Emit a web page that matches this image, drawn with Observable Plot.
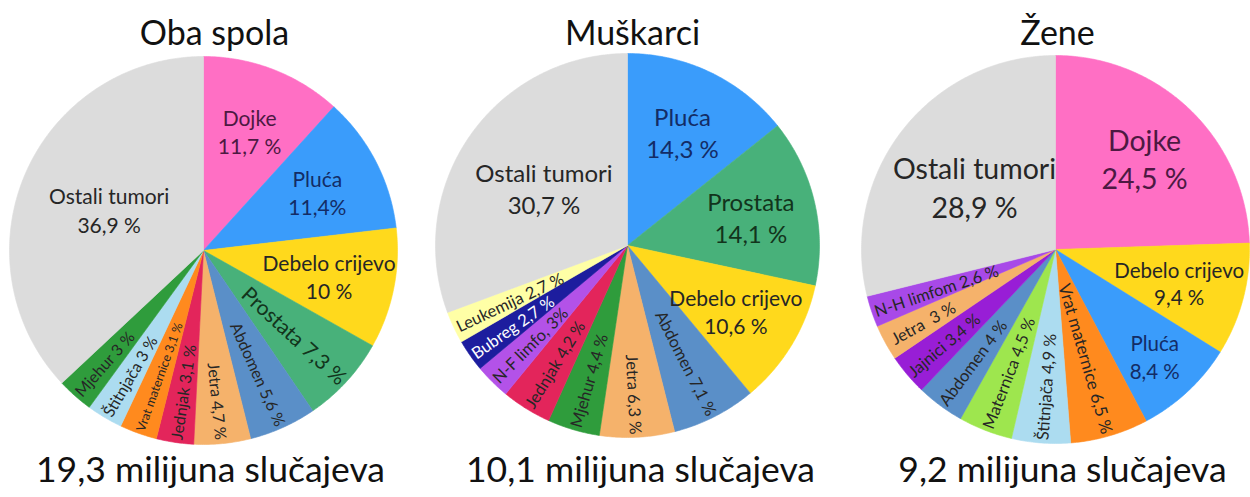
<!DOCTYPE html>
<html>
<head>
<meta charset="utf-8">
<script src="https://cdn.jsdelivr.net/npm/d3@7"></script>
<script src="https://cdn.jsdelivr.net/npm/@observablehq/plot@0.6"></script>
<style>
  html, body { margin: 0; padding: 0; background: #ffffff; }
  #chart { width: 1250px; height: 497px; }
</style>
</head>
<body>
<div id="chart"></div>
<script>
// ---------------- DATA ----------------
const pieTitles = ["Oba spola", "Muškarci", "Žene"];
const pieCaptions = ["19,3 milijuna slučajeva", "10,1 milijuna slučajeva", "9,2 milijuna slučajeva"];

const obaCategories = ["Dojke", "Pluća", "Debelo crijevo", "Prostata", "Abdomen", "Jetra", "Jednjak", "Vrat maternice", "Štitnjača", "Mjehur", "Ostali tumori"];
const obaValues = [11.7, 11.4, 10, 7.3, 5.6, 4.7, 3.1, 3.1, 3, 3, 36.9];
const obaLabels = ["Dojke\n11,7 %", "Pluća\n11,4%", "Debelo crijevo\n10 %", "Prostata 7,3 %", "Abdomen 5,6 %", "Jetra 4,7 %", "Jednjak 3,1 %", "Vrat maternice 3,1 %", "Štitnjača 3 %", "Mjehur 3 %", "Ostali tumori\n36,9 %"];

const muskCategories = ["Pluća", "Prostata", "Debelo crijevo", "Abdomen", "Jetra", "Mjehur", "Jednjak", "N-F limfom", "Bubreg", "Leukemija", "Ostali tumori"];
const muskValues = [14.3, 14.1, 10.6, 7.1, 6.3, 4.4, 4.2, 3, 2.7, 2.7, 30.7];
const muskLabels = ["Pluća\n14,3 %", "Prostata\n14,1 %", "Debelo crijevo\n10,6 %", "Abdomen 7,1 %", "Jetra 6,3 %", "Mjehur 4,4 %", "Jednjak 4,2 %", "N-F limfo, 3%", "Bubreg 2,7 %", "Leukemija 2,7 %", "Ostali tumori\n30,7 %"];

const zeneCategories = ["Dojke", "Debelo crijevo", "Pluća", "Vrat maternice", "Štitnjača", "Maternica", "Abdomen", "Jajnici", "Jetra", "N-H limfom", "Ostali tumori"];
const zeneValues = [24.5, 9.4, 8.4, 6.5, 4.9, 4.5, 4, 3.4, 3, 2.6, 28.9];
const zeneLabels = ["Dojke\n24,5 %", "Debelo crijevo\n9,4 %", "Pluća\n8,4 %", "Vrat maternice 6,5 %", "Štitnjača 4,9 %", "Maternica 4,5 %", "Abdomen 4 %", "Jajnici 3,4 %", "Jetra  3 %", "N-H limfom 2,6 %", "Ostali tumori\n28,9 %"];

// ---------------- STYLE / LAYOUT ----------------
const sliceColors = {
  "Dojke": "#ff6fc4", "Pluća": "#3a9cfb", "Debelo crijevo": "#ffd91c", "Prostata": "#48b17a",
  "Abdomen": "#5a8fc8", "Jetra": "#f5b26b", "Jednjak": "#e3255b", "Vrat maternice": "#ff8a1e",
  "Štitnjača": "#acdcf0", "Mjehur": "#2f9c3c", "Ostali tumori": "#dcdcdc", "N-F limfom": "#b352e8",
  "Bubreg": "#1d1d9e", "Leukemija": "#ffffa6", "Maternica": "#9ee64e", "Jajnici": "#981ed6",
  "N-H limfom": "#a849e8"
};
const textColors = { "Dojke": "#4d1942", "Pluća": "#132c66", "Prostata": "#12341c", "Bubreg": "#ffffff" };
const layout = {
  cx: [203, 627, 1055], cy: [250, 245, 249], R: [194, 192, 194],
  titleX: [214, 632, 1057], titleY: 44,
  captionX: [210, 640, 1062], captionY: 481
};
const sizeRules = [
  (v, s) => v >= 7 ? 21 : (s.length > 16 ? 12.5 : 16),
  (v, s) => v >= 14 ? 24 : v >= 10 ? 21 : 16.5,
  (v, s) => v >= 20 ? 28.5 : v >= 8 ? 20.5 : (v >= 6 ? 17 : 16.5)
];
const FONT = "Lato";

const ctx = document.createElement("canvas").getContext("2d");
function textWidth(s, size) { ctx.font = `${size}px ${FONT}`; return ctx.measureText(s).width; }

const pieSets = [
  {cats: obaCategories, vals: obaValues, labels: obaLabels},
  {cats: muskCategories, vals: muskValues, labels: muskLabels},
  {cats: zeneCategories, vals: zeneValues, labels: zeneLabels}
];

const slicePts = [];
const labelRows = [];
pieSets.forEach((set, p) => {
  const cx = layout.cx[p], cy = layout.cy[p], R = layout.R[p];
  const arcs = d3.pie().sort(null).value(d => d)(set.vals);
  arcs.forEach((a, i) => {
    const id = p + "-" + i;
    const color = sliceColors[set.cats[i]];
    slicePts.push({id, color, x: cx, y: cy});
    const n = Math.max(4, Math.ceil((a.endAngle - a.startAngle) / 0.01));
    for (let k = 0; k <= n; k++) {
      const t = a.startAngle + (a.endAngle - a.startAngle) * k / n;
      slicePts.push({id, color, x: cx + R * Math.sin(t), y: cy - R * Math.cos(t)});
    }
    slicePts.push({id, color, x: cx, y: cy});

    const v = set.vals[i], label = set.labels[i];
    const size = sizeRules[p](v, label);
    const m = (a.startAngle + a.endAngle) / 2;
    const mdeg = m * 180 / Math.PI;
    let r, rot = 0;
    if (v < 8) {
      const w = textWidth(label, size);
      r = Math.min(0.78 * R, R - 3 - w / 2);
      rot = mdeg < 180 ? mdeg - 90 : mdeg - 270;
    } else {
      r = (v >= 28 ? 0.53 : v < 9 ? 0.75 : 0.66) * R;
    }
    labelRows.push({
      x: cx + r * Math.sin(m), y: cy - r * Math.cos(m),
      text: label, rotate: rot, size,
      color: textColors[set.cats[i]] || "#262626"
    });
  });
});

const headRows = pieTitles.map((t, i) => ({text: t, x: layout.titleX[i], y: layout.titleY}));
const footRows = pieCaptions.map((t, i) => ({text: t, x: layout.captionX[i], y: layout.captionY}));

const chart = Plot.plot({
  width: 1250, height: 497,
  margin: 0,
  style: {background: "#ffffff", fontFamily: FONT},
  x: {domain: [0, 1250], range: [0, 1250], axis: null},
  y: {domain: [0, 497], range: [0, 497], axis: null},
  color: {type: "identity"},
  marks: [
    Plot.line(slicePts, {x: "x", y: "y", z: "id", fill: "color", stroke: "color", strokeWidth: 0.6, curve: "linear"}),
    Plot.text(labelRows, {x: "x", y: "y", text: "text", rotate: "rotate", fontSize: "size", fill: "color", lineHeight: 1.35, fontFamily: FONT}),
    Plot.text(headRows, {x: "x", y: "y", text: "text", fontSize: 34, fill: "#111111", lineAnchor: "bottom", fontFamily: FONT}),
    Plot.text(footRows, {x: "x", y: "y", text: "text", fontSize: 35.5, fill: "#111111", lineAnchor: "bottom", fontFamily: FONT})
  ]
});
document.getElementById("chart").appendChild(chart);
</script>
</body>
</html>
